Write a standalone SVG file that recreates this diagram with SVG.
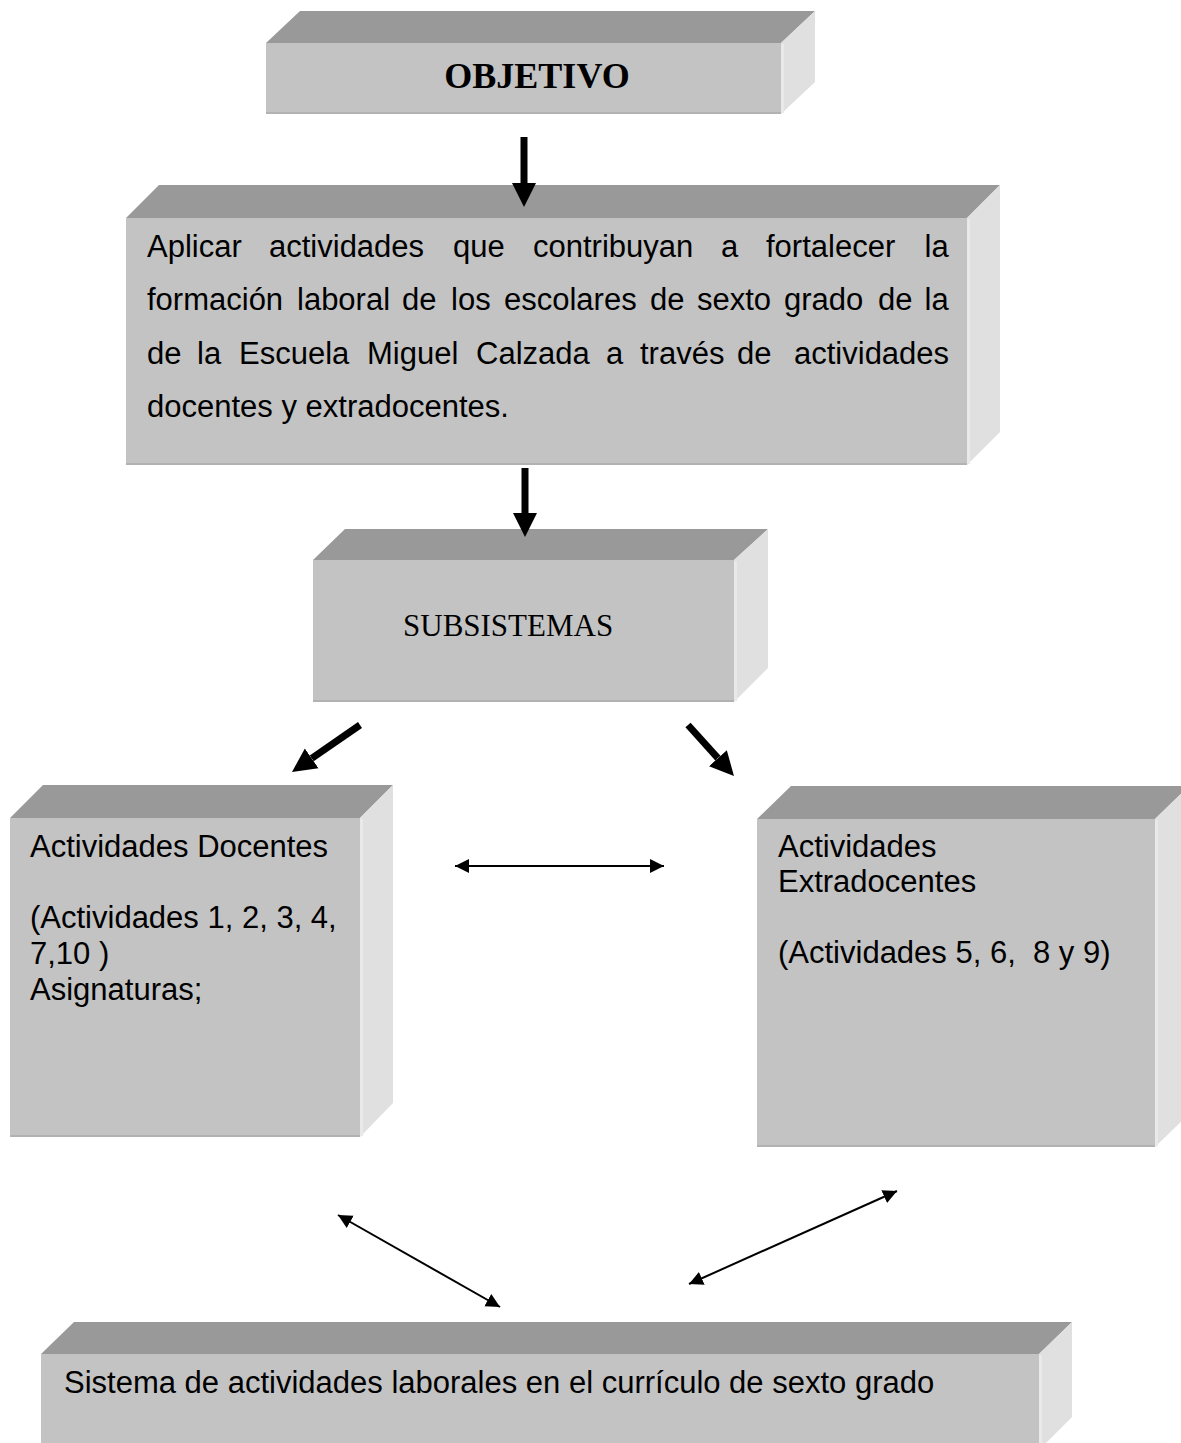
<svg xmlns="http://www.w3.org/2000/svg" width="1181" height="1443" viewBox="0 0 1181 1443">
<style>
.top{fill:#999999}
.front{fill:#c3c3c3}
.side{fill:#e0e0e0}
.edge{stroke:#b2b2b2;stroke-width:2;fill:none}
.hl{stroke:#e9e9e9;stroke-width:3;fill:none}
.sans{font-family:"Liberation Sans",Arial,sans-serif;font-size:31px;fill:#000}
.serif{font-family:"Liberation Serif","Times New Roman",serif;fill:#000}
.thick{stroke:#000;stroke-width:7;fill:none}
.thin{stroke:#000;stroke-width:2;fill:none}
</style>
<defs>
<marker id="bigHead" markerUnits="userSpaceOnUse" markerWidth="26" markerHeight="26" viewBox="0 -13 26 26" refX="0" refY="0" orient="auto">
<path d="M0,-12 L24,0 L0,12 z" fill="#000"/>
</marker>
<marker id="smallHead" markerUnits="userSpaceOnUse" markerWidth="16" markerHeight="16" viewBox="-14 -8 16 16" refX="0" refY="0" orient="auto-start-reverse">
<path d="M-14,-7 L0,0 L-14,7 z" fill="#000"/>
</marker>
</defs>

<g id="objetivo">
<polygon class="top" points="266,43 300,11 815,11 781,43"/>
<polygon class="side" points="781,43 815,11 815,82 781,114"/>
<line class="hl" x1="782.5" y1="44" x2="782.5" y2="113"/>
<rect class="front" x="266" y="43" width="515" height="71"/>
<line class="edge" x1="266" y1="113" x2="781" y2="113"/>
<text class="serif" x="537" y="88" font-size="36" font-weight="bold" text-anchor="middle">OBJETIVO</text>
</g>

<g id="aplicar">
<polygon class="top" points="126,218 159,185 1000,185 967,218"/>
<polygon class="side" points="967,218 1000,185 1000,432 967,465"/>
<line class="hl" x1="968.5" y1="219" x2="968.5" y2="464"/>
<rect class="front" x="126" y="218" width="841" height="247"/>
<line class="edge" x1="126" y1="464" x2="967" y2="464"/>
<text class="sans" y="257"><tspan x="147">Aplicar</tspan><tspan x="269">actividades</tspan><tspan x="453">que</tspan><tspan x="533">contribuyan</tspan><tspan x="721">a</tspan><tspan x="766">fortalecer</tspan><tspan x="924.5">la</tspan></text>
<text class="sans" y="310"><tspan x="147">formación</tspan><tspan x="297">laboral</tspan><tspan x="402">de</tspan><tspan x="451">los</tspan><tspan x="504">escolares</tspan><tspan x="650">de</tspan><tspan x="697">sexto</tspan><tspan x="784">grado</tspan><tspan x="878">de</tspan><tspan x="924.5">la</tspan></text>
<text class="sans" y="364"><tspan x="147">de</tspan><tspan x="197">la</tspan><tspan x="239">Escuela</tspan><tspan x="367">Miguel</tspan><tspan x="476">Calzada</tspan><tspan x="606">a</tspan><tspan x="640">través</tspan><tspan x="737">de</tspan><tspan x="794">actividades</tspan></text>
<text class="sans" x="147" y="417">docentes y extradocentes.</text>
</g>

<g id="subsistemas">
<polygon class="top" points="313,560 345,529 768,529 734,560"/>
<polygon class="side" points="734,560 768,529 768,668 734,702"/>
<line class="hl" x1="735.5" y1="561" x2="735.5" y2="701"/>
<rect class="front" x="313" y="560" width="421" height="142"/>
<line class="edge" x1="313" y1="701" x2="734" y2="701"/>
<text class="serif" x="403" y="636" font-size="31">SUBSISTEMAS</text>
</g>

<g id="docentes">
<polygon class="top" points="10,818 43,785 393,785 360,818"/>
<polygon class="side" points="360,818 393,785 393,1103 360,1137"/>
<line class="hl" x1="361.5" y1="819" x2="361.5" y2="1136"/>
<rect class="front" x="10" y="818" width="350" height="319"/>
<line class="edge" x1="10" y1="1136" x2="360" y2="1136"/>
<text class="sans" x="30" y="857">Actividades Docentes</text>
<text class="sans" x="30" y="928">(Actividades 1, 2, 3, 4,</text>
<text class="sans" x="30" y="964">7,10 )</text>
<text class="sans" x="30" y="1000">Asignaturas;</text>
</g>

<g id="extradocentes">
<polygon class="top" points="757,819 791,786 1189,786 1155,819"/>
<polygon class="side" points="1155,819 1189,786 1189,1114 1155,1147"/>
<line class="hl" x1="1156.5" y1="820" x2="1156.5" y2="1146"/>
<rect class="front" x="757" y="819" width="398" height="328"/>
<line class="edge" x1="757" y1="1146" x2="1155" y2="1146"/>
<text class="sans" x="778" y="857">Actividades</text>
<text class="sans" x="778" y="892">Extradocentes</text>
<text class="sans" x="778" y="963" style="white-space:pre" xml:space="preserve">(Actividades 5, 6,  8 y 9)</text>
</g>

<g id="sistema">
<polygon class="top" points="41,1354 74,1322 1072,1322 1039,1354"/>
<polygon class="side" points="1039,1354 1072,1322 1072,1417 1039,1450"/>
<line class="hl" x1="1040.5" y1="1355" x2="1040.5" y2="1443"/>
<rect class="front" x="41" y="1354" width="998" height="96"/>
<text class="sans" x="64" y="1393">Sistema de actividades laborales en el currículo de sexto grado</text>
</g>

<g id="connectors">
<line class="thick" x1="524" y1="137" x2="524" y2="183" marker-end="url(#bigHead)"/>
<line class="thick" x1="525" y1="468" x2="525" y2="513" marker-end="url(#bigHead)"/>
<line class="thick" x1="360" y1="725" x2="311.7" y2="758.4" marker-end="url(#bigHead)"/>
<line class="thick" x1="688" y1="725" x2="717.9" y2="758.2" marker-end="url(#bigHead)"/>
<line class="thin" x1="455" y1="866" x2="664" y2="866" marker-start="url(#smallHead)" marker-end="url(#smallHead)"/>
<line class="thin" x1="338" y1="1215" x2="500" y2="1307" marker-start="url(#smallHead)" marker-end="url(#smallHead)"/>
<line class="thin" x1="897" y1="1191" x2="689" y2="1284" marker-start="url(#smallHead)" marker-end="url(#smallHead)"/>
</g>
</svg>
